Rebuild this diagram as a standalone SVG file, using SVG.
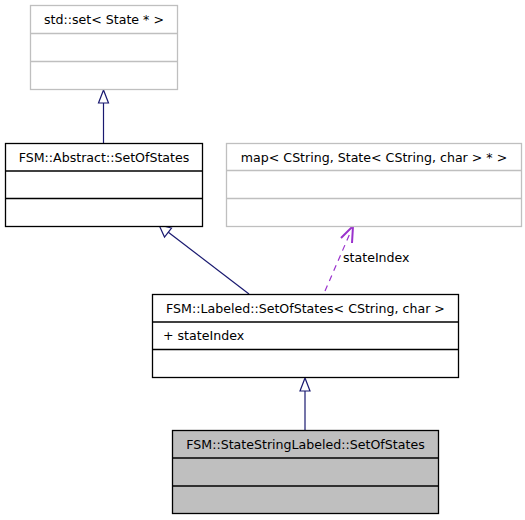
<svg xmlns="http://www.w3.org/2000/svg" width="525" height="520" viewBox="0 0 525 520">
<style>
text{font-family:"DejaVu Sans",sans-serif;font-size:12.6px;fill:#000}
.c{text-anchor:middle}
.b{fill:#fff;stroke:#000;stroke-width:1.3}
.g{fill:#fff;stroke:#bfbfbf;stroke-width:1.3}
.h{fill:#bfbfbf;stroke:#000;stroke-width:1.3}
.lb{stroke:#000;stroke-width:1.3}
.lg{stroke:#bfbfbf;stroke-width:1.3}
.e{stroke:#191970;stroke-width:1.2;fill:none}
.tri{fill:#fff;stroke:#191970;stroke-width:1.2}
.d{stroke:#9a32cd;stroke-width:1.2;fill:none;stroke-dasharray:6,5}
</style>
<rect width="525" height="520" fill="#fff"/>
<g id="edges">
<line class="e" x1="103.5" y1="143" x2="103.5" y2="103"/>
<polygon class="tri" points="103.5,90 98.5,103 108.5,103"/>
<line class="e" x1="249" y1="294" x2="168" y2="232"/>
<polygon class="tri" points="159,225 164.5,237 171.5,228"/>
<line class="e" x1="305" y1="430" x2="305" y2="391"/>
<polygon class="tri" points="305,378 300,391 310,391"/>
<line class="d" x1="325" y1="291" x2="351" y2="231"/>
<polyline points="341,238 353,226 352,243" fill="none" stroke="#9a32cd" stroke-width="2"/>
<text x="343" y="262">stateIndex</text>
</g>
<g id="stdset">
<rect class="g" x="30.5" y="5.5" width="147" height="84"/>
<line class="lg" x1="30.5" y1="33.5" x2="177.5" y2="33.5"/>
<line class="lg" x1="30.5" y1="61.5" x2="177.5" y2="61.5"/>
<text class="c" x="104" y="24">std::set&lt; State * &gt;</text>
</g>
<g id="abstract">
<rect class="b" x="5.5" y="143.5" width="197" height="83"/>
<line class="lb" x1="5.5" y1="171" x2="202.5" y2="171"/>
<line class="lb" x1="5.5" y1="198.5" x2="202.5" y2="198.5"/>
<text class="c" x="104" y="162">FSM::Abstract::SetOfStates</text>
</g>
<g id="map">
<rect class="g" x="226.5" y="143.5" width="295" height="83"/>
<line class="lg" x1="226.5" y1="170.5" x2="521.5" y2="170.5"/>
<line class="lg" x1="226.5" y1="198.5" x2="521.5" y2="198.5"/>
<text class="c" x="374" y="162">map&lt; CString, State&lt; CString, char &gt; * &gt;</text>
</g>
<g id="labeled">
<rect class="b" x="152.5" y="294.5" width="306" height="83"/>
<line class="lb" x1="152.5" y1="322" x2="458.5" y2="322"/>
<line class="lb" x1="152.5" y1="349.5" x2="458.5" y2="349.5"/>
<text class="c" x="305.5" y="313">FSM::Labeled::SetOfStates&lt; CString, char &gt;</text>
<text x="163" y="340">+ stateIndex</text>
</g>
<g id="statestring">
<rect class="h" x="172.5" y="430.5" width="266" height="83"/>
<line class="lb" x1="172.5" y1="458" x2="438.5" y2="458"/>
<line class="lb" x1="172.5" y1="486" x2="438.5" y2="486"/>
<text class="c" x="305.5" y="449">FSM::StateStringLabeled::SetOfStates</text>
</g>
</svg>
